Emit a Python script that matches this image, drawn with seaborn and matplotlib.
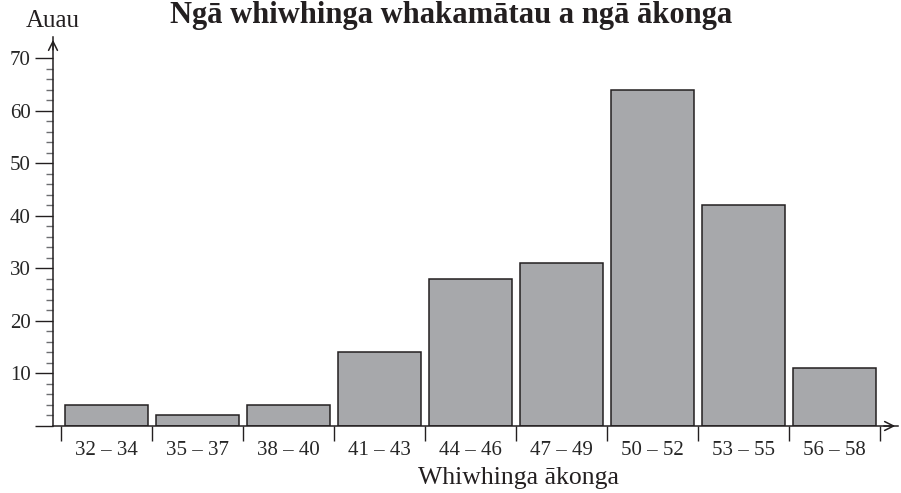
import matplotlib
matplotlib.use("Agg")
import matplotlib.pyplot as plt
import seaborn as sns
import pandas as pd
import numpy as np

# data
bins = ["32 – 34", "35 – 37", "38 – 40", "41 – 43", "44 – 46",
        "47 – 49", "50 – 52", "53 – 55", "56 – 58"]
counts = [4, 2, 4, 14, 28, 31, 64, 42, 11]

title = "Ngā whiwhinga whakamātau a ngā ākonga"
xlabel = "Whiwhinga ākonga"
ylabel = "Auau"

sns.set_style("white")
plt.rcParams["font.family"] = ["Liberation Serif", "DejaVu Serif"]

df = pd.DataFrame({"bin": bins, "count": counts})

fig = plt.figure(figsize=(9.01, 4.93), dpi=100)
ax = fig.add_axes([53 / 901, 67 / 493, 845 / 901, 389 / 493])

sns.barplot(data=df, x="bin", y="count", color="#a7a8ab", saturation=1,
            width=0.91, edgecolor="#231f20", linewidth=1.1, ax=ax)

ax.set_xlim(-0.588, 8.7)
ax.set_ylim(0, 74)

for s in ["top", "right"]:
    ax.spines[s].set_visible(False)
for s in ["left", "bottom"]:
    ax.spines[s].set_color("#231f20")
    ax.spines[s].set_linewidth(1.1)

# y ticks: labelled every 10, minor every 2
ax.set_yticks(range(0, 71, 10))
ax.set_yticklabels([""] + [str(v) for v in range(10, 71, 10)])
ax.set_yticks(range(0, 71, 2), minor=True)
ax.tick_params(axis="y", which="major", length=13, width=1, color="#231f20",
               direction="out", labelsize=15, pad=3, left=True)
ax.tick_params(axis="y", which="minor", length=5, width=1, color="#6d6e71",
               direction="out", left=True)

# x ticks: labels at bin centres, marks at bin edges
ax.set_xticks(range(len(bins)))
ax.set_xticklabels(bins)
ax.set_xticks(np.arange(len(bins) + 1) - 0.5, minor=True)
ax.tick_params(axis="x", which="major", length=0, labelsize=15, pad=11,
               bottom=True)
ax.tick_params(axis="x", which="minor", length=11, width=1, color="#231f20",
               direction="out", bottom=True)
ax.set_xlabel("")
ax.set_ylabel("")

# axis arrows
ax.annotate("", xy=(0, 1.0), xytext=(0, 0.96), xycoords="axes fraction",
            arrowprops=dict(arrowstyle="->", lw=1.1, color="#231f20",
                            mutation_scale=16), annotation_clip=False)
ax.annotate("", xy=(1.0, 0), xytext=(0.98, 0), xycoords="axes fraction",
            arrowprops=dict(arrowstyle="->", lw=1.1, color="#231f20",
                            mutation_scale=16), annotation_clip=False)

fig.text(53 / 901, 1 - 27 / 493, ylabel, ha="center", va="baseline",
         fontsize=18, color="#231f20")
fig.text(518 / 901, 1 - 484 / 493, xlabel, ha="center", va="baseline",
         fontsize=18.5, color="#231f20")
fig.text(451 / 901, 1 - 1 / 493, title, ha="center", va="top",
         fontsize=22, fontweight="bold", color="#231f20")

fig.savefig("out.png", dpi=100)
